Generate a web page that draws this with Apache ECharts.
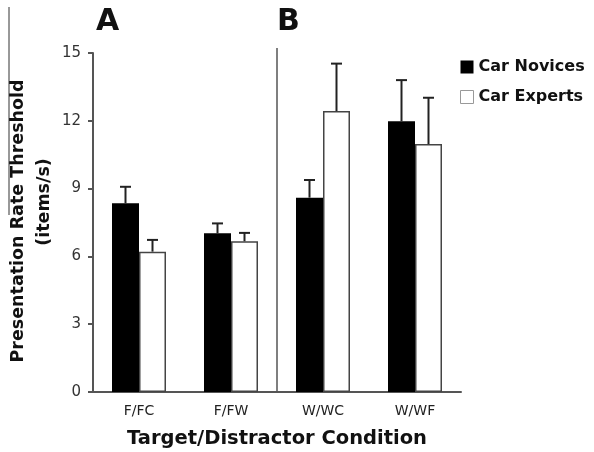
<!DOCTYPE html>
<html>
<head>
<meta charset="utf-8">
<script src="https://cdn.jsdelivr.net/npm/echarts@6/dist/echarts.min.js"></script>
<style>html,body{margin:0;padding:0;background:#fff;}#c{width:594px;height:452px;}</style>
</head>
<body>
<div id="c"></div>
<script>
var categories = ['F/FC', 'F/FW', 'W/WC', 'W/WF'];
var noviceMeans = [8.35, 7.02, 8.6, 11.98];
var noviceErrTop = [9.08, 7.46, 9.38, 13.8];
var expertMeans = [6.21, 6.67, 12.43, 10.97];
var expertErrTop = [6.73, 7.04, 14.53, 13.02];
var yTicks = [0, 3, 6, 9, 12, 15];
var yTitleLines = ['Presentation Rate Threshold', '(items/s)'];

var FONT = 'DejaVu Sans';
var chart = echarts.init(document.getElementById('c'));

var errData = [];
for (var i = 0; i < categories.length; i++) {
  errData.push([i, noviceMeans[i], noviceErrTop[i], -1]);
  errData.push([i, expertMeans[i], expertErrTop[i], 1]);
}

var option = {
  animation: false,
  backgroundColor: '#fff',
  textStyle: { fontFamily: FONT },
  title: [
    { text: 'A', left: 91, top: 2, textStyle: { fontFamily: FONT, fontSize: 30, fontWeight: 'bold', color: '#111' } },
    { text: 'B', left: 272, top: 2, textStyle: { fontFamily: FONT, fontSize: 30, fontWeight: 'bold', color: '#111' } }
  ],
  legend: {
    orient: 'vertical',
    left: 455,
    top: 54,
    itemWidth: 13,
    itemHeight: 13,
    itemGap: 14,
    textStyle: { fontFamily: FONT, fontSize: 16, fontWeight: 'bold', color: '#111' },
    data: [
      { name: 'Car Novices', icon: 'rect', itemStyle: { color: '#000', borderWidth: 0 } },
      { name: 'Car Experts', icon: 'rect', itemStyle: { color: '#fff', borderColor: '#999', borderWidth: 1 } }
    ]
  },
  grid: { left: 93, right: 133, top: 53, bottom: 60, containLabel: false, outerBoundsMode: 'none' },
  xAxis: {
    type: 'category',
    data: categories,
    axisLine: { lineStyle: { color: '#555', width: 2 } },
    axisTick: { show: false },
    axisLabel: { fontFamily: FONT, fontSize: 14, color: '#222', margin: 12 },
    name: 'Target/Distractor Condition',
    nameLocation: 'middle',
    nameGap: 37,
    nameTextStyle: { fontFamily: FONT, fontSize: 19.5, fontWeight: 'bold', color: '#111' }
  },
  yAxis: {
    type: 'value',
    min: yTicks[0],
    max: yTicks[yTicks.length - 1],
    interval: 3,
    axisLine: { show: true, lineStyle: { color: '#555', width: 2 } },
    axisTick: { show: true, length: 5, lineStyle: { color: '#555', width: 2 } },
    axisLabel: { fontFamily: FONT, fontSize: 15, color: '#333', margin: 12 },
    splitLine: { show: false }
  },
  series: [
    {
      name: 'Car Novices', type: 'bar', data: noviceMeans, barWidth: 27, barGap: '0%',
      itemStyle: { color: '#000' }
    },
    {
      name: 'Car Experts', type: 'bar', data: expertMeans, barWidth: 27, barGap: '0%',
      itemStyle: { color: '#fff', borderColor: '#444', borderWidth: 1.5 }
    },
    {
      name: 'err', type: 'custom', data: errData, z: 5,
      renderItem: function (params, api) {
        var idx = api.value(0);
        var side = api.value(3);
        var base = api.coord([idx, api.value(1)]);
        var top = api.coord([idx, api.value(2)]);
        var x = base[0] + side * 13.5;
        var half = 5.5;
        var st = { stroke: '#222', lineWidth: 2 };
        return {
          type: 'group',
          children: [
            { type: 'line', shape: { x1: x, y1: base[1], x2: x, y2: top[1] }, style: st },
            { type: 'line', shape: { x1: x - half, y1: top[1], x2: x + half, y2: top[1] }, style: st }
          ]
        };
      }
    }
  ]
};
chart.setOption(option);

var c1 = chart.convertToPixel({ xAxisIndex: 0 }, 1);
var c2 = chart.convertToPixel({ xAxisIndex: 0 }, 2);
var divX = (c1 + c2) / 2;
var y0 = chart.convertToPixel({ yAxisIndex: 0 }, 0);
var yTitleFont = 'bold 17.5px "DejaVu Sans"';
chart.setOption({
  graphic: [
    { type: 'line', shape: { x1: divX, y1: 48, x2: divX, y2: y0 }, style: { stroke: '#555', lineWidth: 1.5 }, z: 10 },
    { type: 'line', shape: { x1: 9, y1: 7, x2: 9, y2: 215 }, style: { stroke: '#333', lineWidth: 1 }, z: 10 },
    { type: 'text', x: 18, y: 221, rotation: Math.PI / 2,
      style: { text: yTitleLines[0], font: yTitleFont, fill: '#111', align: 'center', verticalAlign: 'middle' } },
    { type: 'text', x: 44, y: 202, rotation: Math.PI / 2,
      style: { text: yTitleLines[1], font: yTitleFont, fill: '#111', align: 'center', verticalAlign: 'middle' } }
  ]
});
</script>
</body>
</html>
